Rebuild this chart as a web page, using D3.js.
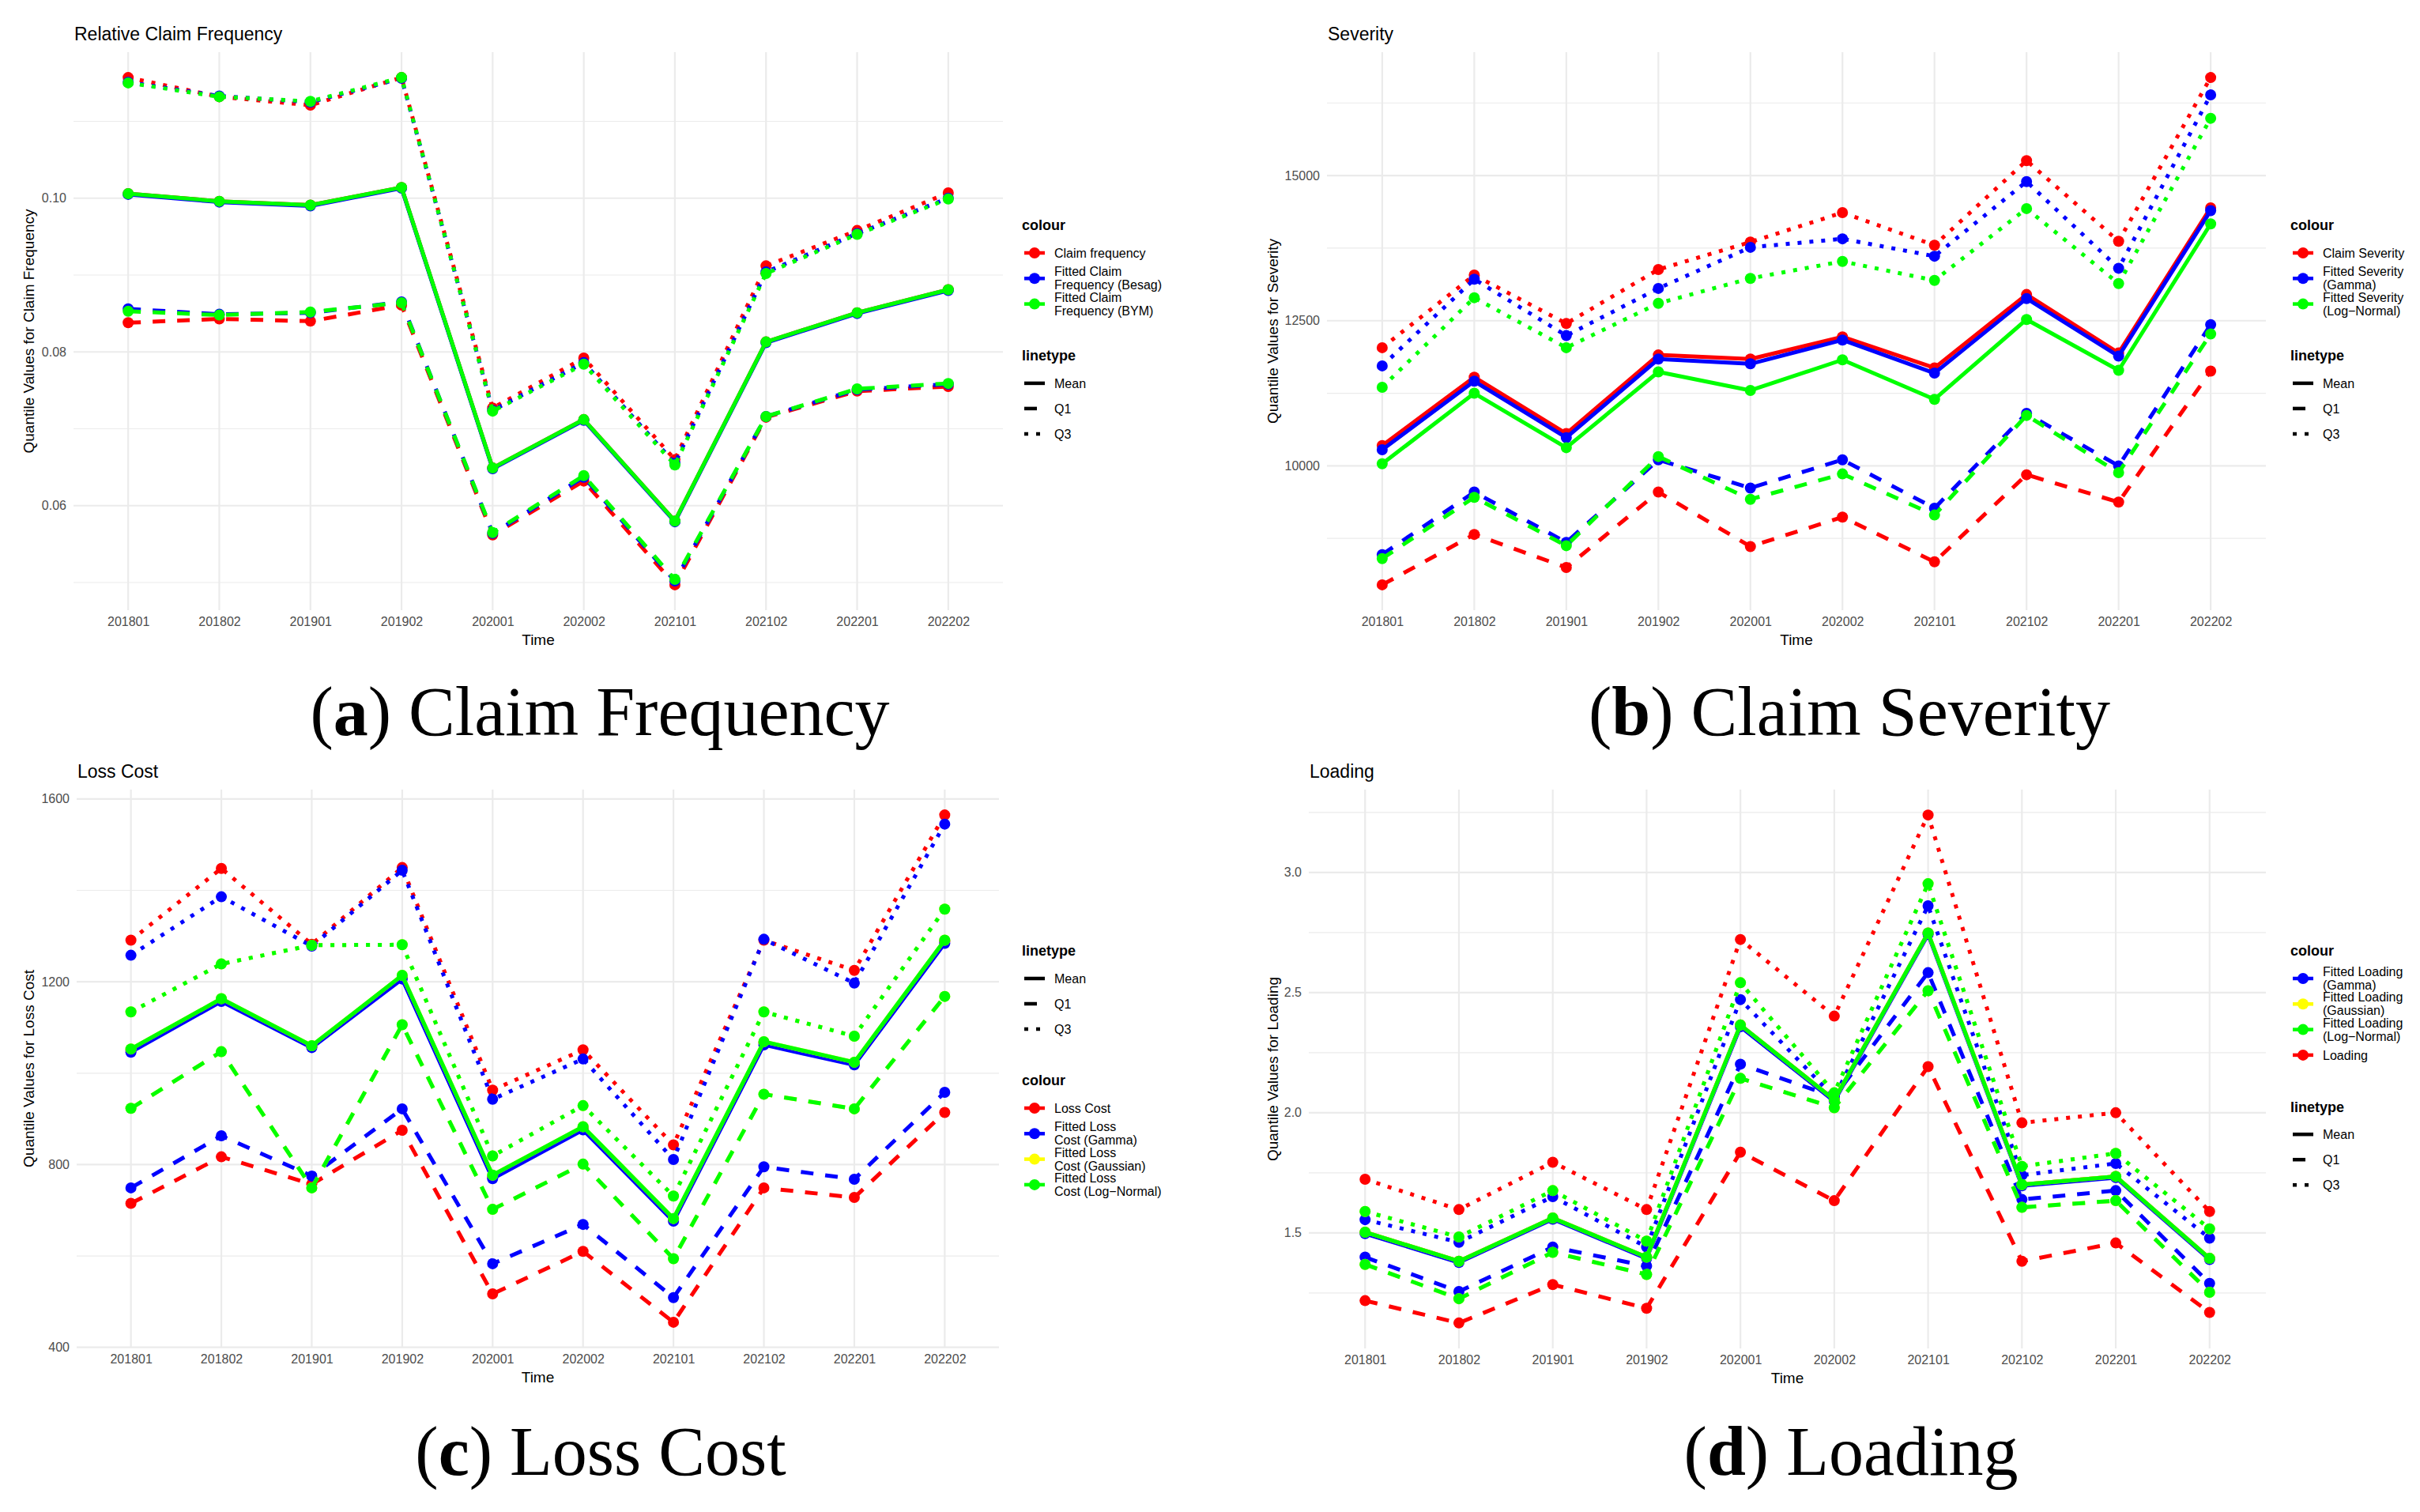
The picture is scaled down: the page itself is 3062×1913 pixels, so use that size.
<!DOCTYPE html>
<html>
<head>
<meta charset="utf-8">
<script src="https://cdn.jsdelivr.net/npm/d3@7"></script>
<style>
  body { margin: 0; background: #fff; }
  svg { display: block; }
  text { font-family: "Liberation Sans", Arial, sans-serif; }
</style>
</head>
<body>
<svg id="fig" width="3062" height="1913"></svg>
<script>
// x categories, shared by all four panels
const periods = ["201801", "201802", "201901", "201902", "202001", "202002", "202101", "202102", "202201", "202202"];

// (a) relative claim frequency
const freqObsQ1   = [0.0838, 0.0843, 0.0840, 0.0861, 0.0562, 0.0632, 0.0497, 0.0715, 0.0749, 0.0755];
const freqObsMean = [0.1006, 0.0996, 0.0991, 0.1014, 0.0649, 0.0712, 0.0580, 0.0813, 0.0851, 0.0881];
const freqObsQ3   = [0.1157, 0.1132, 0.1121, 0.1157, 0.0727, 0.0792, 0.0660, 0.0912, 0.0958, 0.1007];
const freqBesagQ1   = [0.0856, 0.0849, 0.0851, 0.0865, 0.0564, 0.0637, 0.0502, 0.0716, 0.0751, 0.0758];
const freqBesagMean = [0.1005, 0.0995, 0.0990, 0.1013, 0.0648, 0.0711, 0.0579, 0.0812, 0.0850, 0.0880];
const freqBesagQ3   = [0.1151, 0.1133, 0.1125, 0.1156, 0.0724, 0.0786, 0.0655, 0.0904, 0.0954, 0.1000];
const freqBymQ1   = [0.0853, 0.0848, 0.0852, 0.0864, 0.0565, 0.0639, 0.0504, 0.0716, 0.0752, 0.0759];
const freqBymMean = [0.1006, 0.0996, 0.0991, 0.1014, 0.0649, 0.0712, 0.0580, 0.0813, 0.0851, 0.0881];
const freqBymQ3   = [0.1150, 0.1132, 0.1126, 0.1157, 0.0723, 0.0784, 0.0653, 0.0902, 0.0953, 0.0999];
const freqTicks = [0.06, 0.08, 0.10];
const freqMinor = [0.05, 0.07, 0.09, 0.11];

// (b) severity
const sevObsQ1   = [7951, 8819, 8250, 9549, 8611, 9118, 8347, 9847, 9375, 11632];
const sevObsMean = [10350, 11528, 10556, 11910, 11840, 12222, 11687, 12951, 11944, 14444];
const sevObsQ3   = [12035, 13285, 12451, 13382, 13854, 14361, 13799, 15257, 13868, 16688];
const sevGammaQ1   = [8472, 9549, 8681, 10104, 9618, 10104, 9271, 10903, 10000, 12431];
const sevGammaMean = [10278, 11458, 10486, 11840, 11757, 12167, 11597, 12882, 11889, 14396];
const sevGammaQ3   = [11722, 13215, 12243, 13056, 13764, 13910, 13611, 14896, 13403, 16389];
const sevLnQ1   = [8403, 9458, 8625, 10160, 9424, 9861, 9153, 10868, 9882, 12271];
const sevLnMean = [10035, 11250, 10313, 11618, 11299, 11826, 11146, 12521, 11646, 14167];
const sevLnQ3   = [11354, 12896, 12035, 12799, 13229, 13521, 13194, 14431, 13139, 15986];
const sevTicks = [10000, 12500, 15000];
const sevMinor = [8750, 11250, 13750, 16250];

// (c) loss cost
const lcObsQ1   = [715, 817, 757, 875, 517, 610, 455, 749, 728, 914];
const lcObsMean = [1050, 1160, 1058, 1210, 773, 880, 679, 1066, 1021, 1288];
const lcObsQ3   = [1291, 1448, 1282, 1450, 963, 1051, 843, 1291, 1225, 1565];
const lcGammaQ1   = [749, 863, 775, 922, 583, 669, 509, 795, 768, 958];
const lcGammaMean = [1046, 1157, 1056, 1206, 769, 876, 676, 1062, 1018, 1284];
const lcGammaQ3   = [1258, 1386, 1278, 1444, 943, 1031, 811, 1293, 1197, 1545];
const lcGaussQ1   = [923, 1047, 749, 1106, 702, 801, 594, 954, 922, 1168];
const lcGaussMean = [1053, 1163, 1060, 1214, 777, 883, 682, 1069, 1024, 1291];
const lcGaussQ3   = [1134, 1239, 1280, 1281, 819, 929, 731, 1134, 1081, 1359];
const lcLnQ1   = [923, 1047, 749, 1106, 702, 801, 594, 954, 922, 1168];
const lcLnMean = [1053, 1163, 1060, 1214, 777, 883, 682, 1069, 1024, 1291];
const lcLnQ3   = [1134, 1239, 1280, 1281, 819, 929, 731, 1134, 1081, 1359];
const lcTicks = [400, 800, 1200, 1600];
const lcMinor = [600, 1000, 1400];

// (d) loading
const ldObsQ1   = [1.218, 1.125, 1.285, 1.186, 1.836, 1.634, 2.192, 1.382, 1.458, 1.169];
const ldObsMean = [1.503, 1.382, 1.562, 1.399, 2.365, 2.054, 2.748, 1.701, 1.735, 1.394];
const ldObsQ3   = [1.723, 1.597, 1.794, 1.597, 2.721, 2.402, 3.239, 1.958, 2.000, 1.589];
const ldGammaQ1   = [1.399, 1.256, 1.441, 1.362, 2.202, 2.066, 2.583, 1.639, 1.676, 1.290];
const ldGammaMean = [1.497, 1.377, 1.557, 1.394, 2.358, 2.048, 2.742, 1.696, 1.730, 1.389];
const ldGammaQ3   = [1.555, 1.461, 1.651, 1.441, 2.471, 2.063, 2.861, 1.740, 1.789, 1.478];
const ldGaussQ1   = [1.369, 1.226, 1.419, 1.327, 2.143, 2.021, 2.508, 1.606, 1.634, 1.253];
const ldGaussMean = [1.503, 1.382, 1.562, 1.399, 2.365, 2.054, 2.748, 1.701, 1.735, 1.394];
const ldGaussQ3   = [1.589, 1.483, 1.676, 1.466, 2.541, 2.083, 2.953, 1.777, 1.831, 1.517];
const ldLnQ1   = [1.369, 1.226, 1.419, 1.327, 2.143, 2.021, 2.508, 1.606, 1.634, 1.253];
const ldLnMean = [1.503, 1.382, 1.562, 1.399, 2.365, 2.054, 2.748, 1.701, 1.735, 1.394];
const ldLnQ3   = [1.589, 1.483, 1.676, 1.466, 2.541, 2.083, 2.953, 1.777, 1.831, 1.517];
const ldTicks = [1.5, 2.0, 2.5, 3.0];
const ldMinor = [1.25, 1.75, 2.25, 2.75, 3.25];

const RED = "#ff0000", BLUE = "#0000ff", YELLOW = "#ffff00", GREEN = "#00ff00";
const dashes = { Mean: null, Q1: "16,15", Q3: "5,10" };
const linetypes = ["Mean", "Q1", "Q3"];

const panels = [
  {
    title: "Relative Claim Frequency", ylab: "Quantile Values for Claim Frequency",
    left: 93, right: 1269, top: 66, bottom: 772, yTitleX: 36, fmt: ".2f",
    ticks: freqTicks, minor: freqMinor, legendX: 1293, legendY: 285, colourFirst: true,
    series: [
      { name: "Claim frequency", colour: RED, Q1: freqObsQ1, Mean: freqObsMean, Q3: freqObsQ3 },
      { name: "Fitted Claim\nFrequency (Besag)", colour: BLUE, Q1: freqBesagQ1, Mean: freqBesagMean, Q3: freqBesagQ3 },
      { name: "Fitted Claim\nFrequency (BYM)", colour: GREEN, Q1: freqBymQ1, Mean: freqBymMean, Q3: freqBymQ3 }
    ],
    caption: ["a", " Claim Frequency"], capX: 759, capY: 930
  },
  {
    title: "Severity", ylab: "Quantile Values for Severity",
    left: 1679, right: 2867, top: 66, bottom: 772, yTitleX: 1610, fmt: "d",
    ticks: sevTicks, minor: sevMinor, legendX: 2898, legendY: 285, colourFirst: true,
    series: [
      { name: "Claim Severity", colour: RED, Q1: sevObsQ1, Mean: sevObsMean, Q3: sevObsQ3 },
      { name: "Fitted Severity\n(Gamma)", colour: BLUE, Q1: sevGammaQ1, Mean: sevGammaMean, Q3: sevGammaQ3 },
      { name: "Fitted Severity\n(Log\u2212Normal)", colour: GREEN, Q1: sevLnQ1, Mean: sevLnMean, Q3: sevLnQ3 }
    ],
    caption: ["b", " Claim Severity"], capX: 2340, capY: 930
  },
  {
    title: "Loss Cost", ylab: "Quantile Values for Loss Cost",
    left: 97, right: 1264, top: 999, bottom: 1705, yTitleX: 36, fmt: "d",
    ticks: lcTicks, minor: lcMinor, legendX: 1293, legendY: 1203, colourFirst: false,
    series: [
      { name: "Loss Cost", colour: RED, Q1: lcObsQ1, Mean: lcObsMean, Q3: lcObsQ3 },
      { name: "Fitted Loss\nCost (Gamma)", colour: BLUE, Q1: lcGammaQ1, Mean: lcGammaMean, Q3: lcGammaQ3 },
      { name: "Fitted Loss\nCost (Gaussian)", colour: YELLOW, Q1: lcGaussQ1, Mean: lcGaussMean, Q3: lcGaussQ3 },
      { name: "Fitted Loss\nCost (Log\u2212Normal)", colour: GREEN, Q1: lcLnQ1, Mean: lcLnMean, Q3: lcLnQ3 }
    ],
    caption: ["c", " Loss Cost"], capX: 760, capY: 1866
  },
  {
    title: "Loading", ylab: "Quantile Values for Loading",
    left: 1656, right: 2867, top: 999, bottom: 1706, yTitleX: 1610, fmt: ".1f",
    ticks: ldTicks, minor: ldMinor, legendX: 2898, legendY: 1203, colourFirst: true,
    series: [
      { name: "Loading", colour: RED, Q1: ldObsQ1, Mean: ldObsMean, Q3: ldObsQ3 },
      { name: "Fitted Loading\n(Gamma)", colour: BLUE, Q1: ldGammaQ1, Mean: ldGammaMean, Q3: ldGammaQ3 },
      { name: "Fitted Loading\n(Gaussian)", colour: YELLOW, Q1: ldGaussQ1, Mean: ldGaussMean, Q3: ldGaussQ3 },
      { name: "Fitted Loading\n(Log\u2212Normal)", colour: GREEN, Q1: ldLnQ1, Mean: ldLnMean, Q3: ldLnQ3 }
    ],
    // legend order differs from drawing order in this panel
    legendOrder: [1, 2, 3, 0],
    caption: ["d", " Loading"], capX: 2342, capY: 1866
  }
];

const svg = d3.select("#fig");
svg.append("rect").attr("width", 3062).attr("height", 1913).attr("fill", "#fff");

function drawPanel(p) {
  const g = svg.append("g");
  const x = d3.scalePoint().domain(periods).range([p.left, p.right]).padding(0.6);
  const all = p.series.flatMap(s => linetypes.flatMap(lt => s[lt]));
  const [lo, hi] = d3.extent(all);
  const pad = (hi - lo) * 0.05;
  const y = d3.scaleLinear().domain([lo - pad, hi + pad]).range([p.bottom, p.top]);

  // grid
  g.append("g").selectAll("line").data(p.minor.filter(d => y(d) >= p.top && y(d) <= p.bottom)).join("line")
    .attr("x1", p.left).attr("x2", p.right)
    .attr("y1", d => y(d)).attr("y2", d => y(d))
    .attr("stroke", "#ebebeb").attr("stroke-width", 1.2);
  g.append("g").selectAll("line").data(p.ticks).join("line")
    .attr("x1", p.left).attr("x2", p.right)
    .attr("y1", d => y(d)).attr("y2", d => y(d))
    .attr("stroke", "#ebebeb").attr("stroke-width", 2.2);
  g.append("g").selectAll("line").data(periods).join("line")
    .attr("x1", d => x(d)).attr("x2", d => x(d))
    .attr("y1", p.top).attr("y2", p.bottom)
    .attr("stroke", "#ebebeb").attr("stroke-width", 2.2);

  // axes
  const xAxis = g.append("g").attr("transform", `translate(0,${p.bottom + 9})`)
    .call(d3.axisBottom(x).tickSize(0).tickPadding(0));
  const yAxis = g.append("g").attr("transform", `translate(${p.left},0)`)
    .call(d3.axisLeft(y).tickValues(p.ticks).tickFormat(d3.format(p.fmt)).tickSize(0).tickPadding(9));
  [xAxis, yAxis].forEach(a => {
    a.select(".domain").remove();
    a.attr("font-size", 16).attr("font-family", "'Liberation Sans', Arial, sans-serif").attr("color", "#4d4d4d");
  });

  // titles
  g.append("text").attr("x", p.left + 1).attr("y", p.top - 15)
    .attr("font-size", 23).attr("fill", "#000").text(p.title);
  g.append("text").attr("x", (p.left + p.right) / 2).attr("y", p.bottom + 44)
    .attr("text-anchor", "middle").attr("font-size", 19).text("Time");
  g.append("text")
    .attr("transform", `translate(${p.yTitleX},${(p.top + p.bottom) / 2}) rotate(-90)`)
    .attr("text-anchor", "middle").attr("dy", "0.35em").attr("font-size", 19)
    .text(p.ylab);

  // series
  const line = d3.line().x((d, i) => x(periods[i])).y(d => y(d)).curve(d3.curveLinear);
  p.series.forEach(s => {
    linetypes.forEach(lt => {
      const sg = g.append("g");
      sg.append("path").datum(s[lt])
        .attr("d", line)
        .attr("fill", "none").attr("stroke", s.colour).attr("stroke-width", 5)
        .attr("stroke-linejoin", "round").attr("stroke-linecap", "butt")
        .attr("stroke-dasharray", dashes[lt]);
      sg.selectAll("circle").data(s[lt]).join("circle")
        .attr("cx", (d, i) => x(periods[i])).attr("cy", d => y(d))
        .attr("r", 7).attr("fill", s.colour);
    });
  });

  drawLegend(p);

  // caption below the subfigure
  const cap = svg.append("text").attr("x", p.capX).attr("y", p.capY)
    .attr("text-anchor", "middle").attr("font-size", 88)
    .style("font-family", "'Liberation Serif', 'DejaVu Serif', serif");
  cap.append("tspan").text("(");
  cap.append("tspan").attr("font-weight", "bold").text(p.caption[0]);
  cap.append("tspan").text(")" + p.caption[1]);
}

function drawLegend(p) {
  const g = svg.append("g");
  const kx = p.legendX + 16, lx = p.legendX + 41;
  let cy = p.legendY;

  function title(t) {
    g.append("text").attr("x", p.legendX).attr("y", cy).attr("dy", "0.35em")
      .attr("font-size", 18).attr("font-weight", "bold").text(t);
    cy += 35;
  }
  function label(t) {
    const lines = t.split("\n");
    const txt = g.append("text").attr("x", lx).attr("font-size", 16).attr("fill", "#000");
    lines.forEach((l, i) => {
      txt.append("tspan").attr("x", lx)
        .attr("y", cy + (i - (lines.length - 1) / 2) * 17).attr("dy", "0.35em").text(l);
    });
  }
  function colourSection() {
    title("colour");
    const order = p.legendOrder || p.series.map((d, i) => i);
    order.forEach(i => {
      const s = p.series[i];
      g.append("line").attr("x1", kx - 13).attr("x2", kx + 13).attr("y1", cy).attr("y2", cy)
        .attr("stroke", s.colour).attr("stroke-width", 4.5);
      g.append("circle").attr("cx", kx).attr("cy", cy).attr("r", 7).attr("fill", s.colour);
      label(s.name);
      cy += 32.3;
    });
    cy += 33;
  }
  function linetypeSection() {
    title("linetype");
    linetypes.forEach(lt => {
      g.append("line").attr("x1", kx - 13).attr("x2", kx + 13).attr("y1", cy).attr("y2", cy)
        .attr("stroke", "#000").attr("stroke-width", 4.5)
        .attr("stroke-dasharray", dashes[lt]);
      label(lt);
      cy += 32;
    });
    cy += 33;
  }
  if (p.colourFirst) { colourSection(); linetypeSection(); }
  else { linetypeSection(); colourSection(); }
}

panels.forEach(drawPanel);
</script>
</body>
</html>
